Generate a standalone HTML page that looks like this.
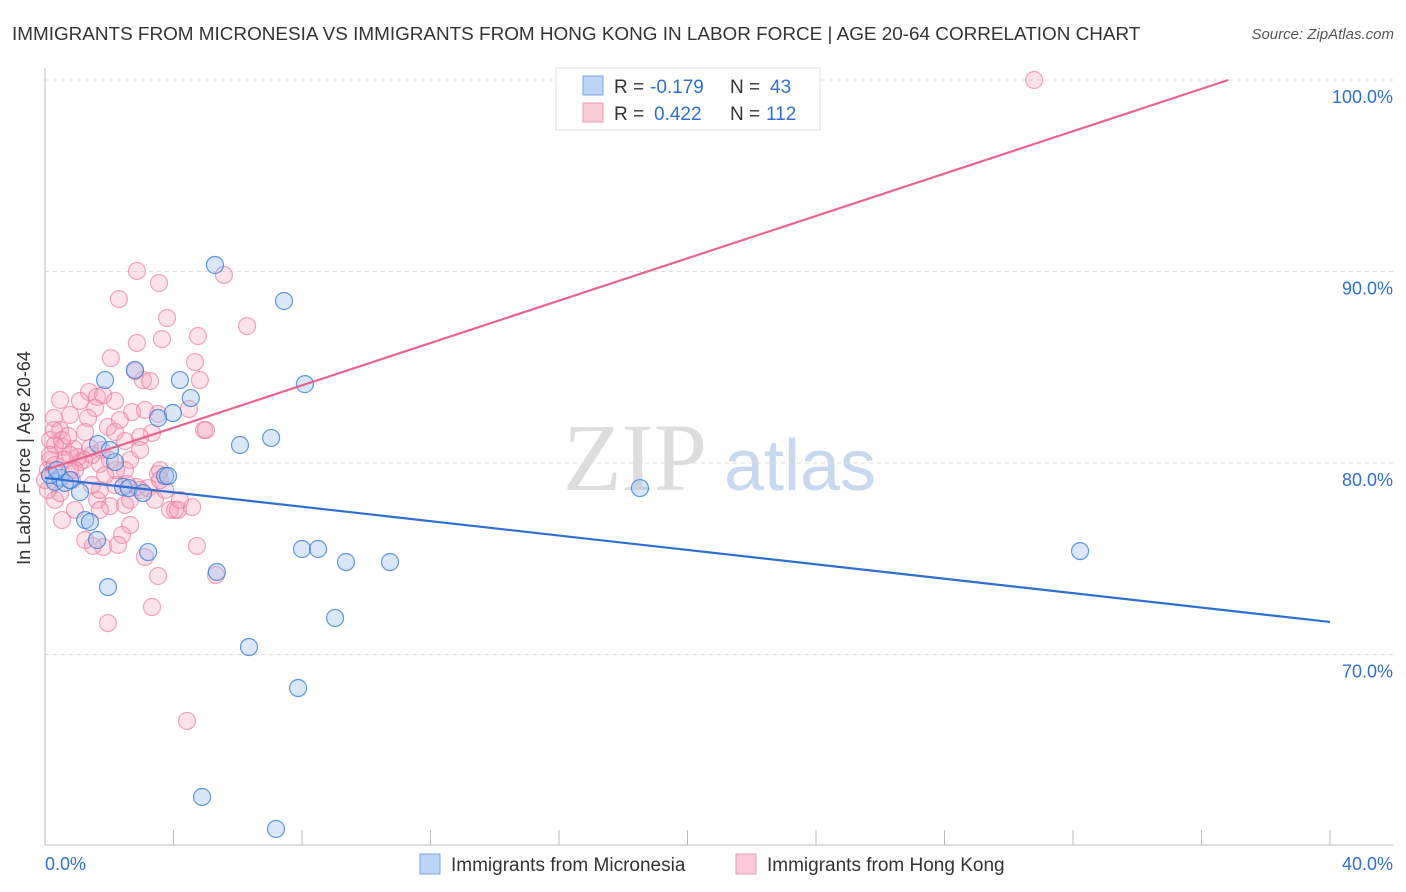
<!DOCTYPE html>
<html><head><meta charset="utf-8"><style>
body{margin:0;background:#fff;font-family:"Liberation Sans",sans-serif;}
svg{display:block}
</style></head><body>
<svg id="chart" width="1406" height="892" xmlns="http://www.w3.org/2000/svg">
<text x="12" y="40" font-size="18.9" fill="#333">IMMIGRANTS FROM MICRONESIA VS IMMIGRANTS FROM HONG KONG IN LABOR FORCE | AGE 20-64 CORRELATION CHART</text>
<text x="1394" y="39" font-size="15" fill="#555" font-style="italic" text-anchor="end">Source: ZipAtlas.com</text>
<g>
<text x="635" y="490" font-size="96" fill="#ddd" text-anchor="middle" font-family="Liberation Serif,serif">ZIP</text>
<text x="800" y="490" font-size="72" fill="#c8d8ee" text-anchor="middle">atlas</text>
</g>
<g id="grid"></g><g id="axes"></g><g id="pts"></g><g id="lines"></g>
<text x="30" y="458" font-size="18" fill="#333" text-anchor="middle" transform="rotate(-90 30 458)">In Labor Force | Age 20-64</text>
<g>
<rect x="556" y="68" width="264" height="62" fill="#fff" stroke="#ddd"/>
<rect x="583" y="76" width="20" height="19" fill="#bcd4f5" stroke="#7aa6e6"/>
<rect x="583" y="103" width="20" height="19" fill="#fbcbd8" stroke="#ef98b2"/>
<text y="93" font-size="19"><tspan x="614" fill="#333">R = </tspan><tspan x="650" fill="#2f6fd1">-0.179</tspan><tspan x="730" fill="#333">N = </tspan><tspan x="770" fill="#2f6fd1">43</tspan></text>
<text y="120" font-size="19"><tspan x="614" fill="#333">R = </tspan><tspan x="654" fill="#2f6fd1">0.422</tspan><tspan x="730" fill="#333">N = </tspan><tspan x="766" fill="#2f6fd1">112</tspan></text>
</g>
<g>
<rect x="420" y="854" width="20" height="20" fill="#bcd4f5" stroke="#7aa6e6"/>
<text x="451" y="871" font-size="19" fill="#333">Immigrants from Micronesia</text>
<rect x="736" y="854" width="20" height="20" fill="#fbcbd8" stroke="#ef98b2"/>
<text x="767" y="871" font-size="19" fill="#333">Immigrants from Hong Kong</text>
</g>
</svg>
<script>
const blueX=[5.29,7.44,4.2,8.09,2.8,1.87,4.54,3.98,3.52,6.07,7.04,1.65,2.18,3.74,3.83,2.43,2.61,3.05,1.09,0.31,0.47,0.16,1.25,1.4,1.62,3.21,8.0,8.5,9.37,10.74,5.35,1.96,9.03,6.35,7.88,4.89,7.19,18.52,32.22,0.62,0.78,2.02,0.37];
const blueY=[90.34,88.46,84.33,84.12,84.86,84.33,83.39,82.61,82.35,80.94,81.31,80.99,80.05,79.32,79.32,78.75,78.69,78.43,78.48,79.01,79.22,79.37,77.02,76.92,75.98,75.35,75.51,75.51,74.83,74.83,74.31,73.52,71.91,70.39,68.25,62.56,60.89,78.69,75.4,78.96,79.11,80.68,79.63];
const pinkX=[30.79,2.86,5.57,3.55,2.3,6.29,3.8,4.76,3.64,2.86,4.67,2.05,3.05,3.27,2.8,1.37,1.62,1.81,1.09,2.18,1.56,2.71,3.52,4.48,0.28,0.78,1.96,4.95,5.01,3.33,2.96,2.49,2.18,1.25,0.47,0.16,0.31,0.56,0.9,1.4,1.77,2.02,2.65,2.49,3.58,3.52,1.71,1.09,0.62,0.16,0.09,0.31,0.78,1.03,1.46,0.31,0.93,1.62,2.02,2.49,2.96,2.86,2.55,2.18,0.47,1.71,3.21,3.89,4.05,4.14,4.58,2.65,2.4,1.81,1.49,3.11,4.73,5.32,3.52,1.96,3.33,4.42,0.09,0.16,0.28,0,0.53,0.72,1.34,2.33,3.11,1.21,2.21,1.46,0.84,2.65,3.42,3.74,4.2,4.82,0.47,0.78,1.87,2.96,2.27,1.71,0.53,1.25,0.93,3.58];
const pinkY=[100,90.03,89.82,89.4,88.56,87.15,87.57,86.63,86.47,86.27,85.27,85.48,84.33,84.28,84.8,83.71,83.45,83.55,83.24,83.24,82.87,82.66,82.56,82.82,82.35,82.51,81.88,81.72,81.72,81.57,81.36,81.15,81.62,81.62,81.72,81.2,80.94,80.84,80.73,80.78,80.68,80.16,80.16,79.63,79.63,79.43,79.95,80.05,80.16,80.16,79.63,79.9,79.63,80.31,80.42,78.07,77.55,78.07,77.75,77.81,78.59,78.75,78.9,78.85,78.43,78.59,78.69,77.55,77.55,77.55,77.7,76.76,76.24,75.61,75.67,75.09,75.67,74.15,74.1,71.64,72.48,66.53,78.59,80.42,81.72,79.11,81.2,81.41,82.35,82.25,82.77,80.16,79.63,78.85,79.11,78.07,78.07,78.59,78.07,84.33,83.29,80.42,79.37,80.68,75.72,77.55,77.02,75.98,79.63,79.11];
const yTicks=[100,90,80,70];
const yTickLabels=["100.0%","90.0%","80.0%","70.0%"];
const xTickLabels=["0.0%","40.0%"];
const blueTrend=[79.22,71.7];
const pinkTrend=[79.63,0.553];
const NS="http://www.w3.org/2000/svg";
const X=v=>45+v*32.125, Y=v=>80+(100-v)*19.15;
function mk(tag,at,parent){const e=document.createElementNS(NS,tag);for(const k in at)e.setAttribute(k,at[k]);document.getElementById(parent).appendChild(e);return e;}
yTicks.forEach((t,i)=>{
 const l=mk('line',{x1:45,x2:1393,y1:Y(t),y2:Y(t),stroke:'#ddd','stroke-dasharray':'4,4'},'grid');
 
 
 const tx=mk('text',{x:1393,y:Y(t)+23,'font-size':18,fill:'#2f6fd1','text-anchor':'end'},'grid');
 tx.textContent=yTickLabels[i];
 
 
});
const ax=mk('line',{x1:45,x2:45,y1:68,y2:845,stroke:'#bbb'},'axes');


const bx=mk('line',{x1:45,x2:1393,y1:845,y2:845,stroke:'#bbb'},'axes');


for(let i=0;i<=10;i++){const t=mk('line',{x1:X(i*4),x2:X(i*4),y1:830,y2:845,stroke:'#bbb'},'axes');
 
 }
[[0,'start',45],[40,'end',1393]].forEach((d,i)=>{const t=mk('text',{x:d[2],y:870,'font-size':18,fill:'#2f6fd1','text-anchor':d[1]},'axes');t.textContent=xTickLabels[i];
 
 });
pinkX.forEach((v,i)=>{const c=mk('circle',{cx:X(v),cy:Y(pinkY[i]),r:8.5,fill:'rgba(245,160,185,0.3)',stroke:'rgba(235,120,155,0.65)','stroke-width':1.2},'pts');
 
 });
blueX.forEach((v,i)=>{const c=mk('circle',{cx:X(v),cy:Y(blueY[i]),r:8.5,fill:'rgba(160,195,240,0.4)',stroke:'rgba(60,125,215,0.8)','stroke-width':1.2},'pts');
 
 });
const bl=mk('line',{x1:X(0),y1:Y(blueTrend[0]),x2:X(40),y2:Y(blueTrend[1]),stroke:'#2f6fd1','stroke-width':2.2},'lines');


const xe=(100-pinkTrend[0])/pinkTrend[1];
const pl=mk('line',{x1:X(0),y1:Y(pinkTrend[0]),x2:X(xe),y2:Y(100),stroke:'#e8648f','stroke-width':2.2},'lines');


</script>
</body></html>
